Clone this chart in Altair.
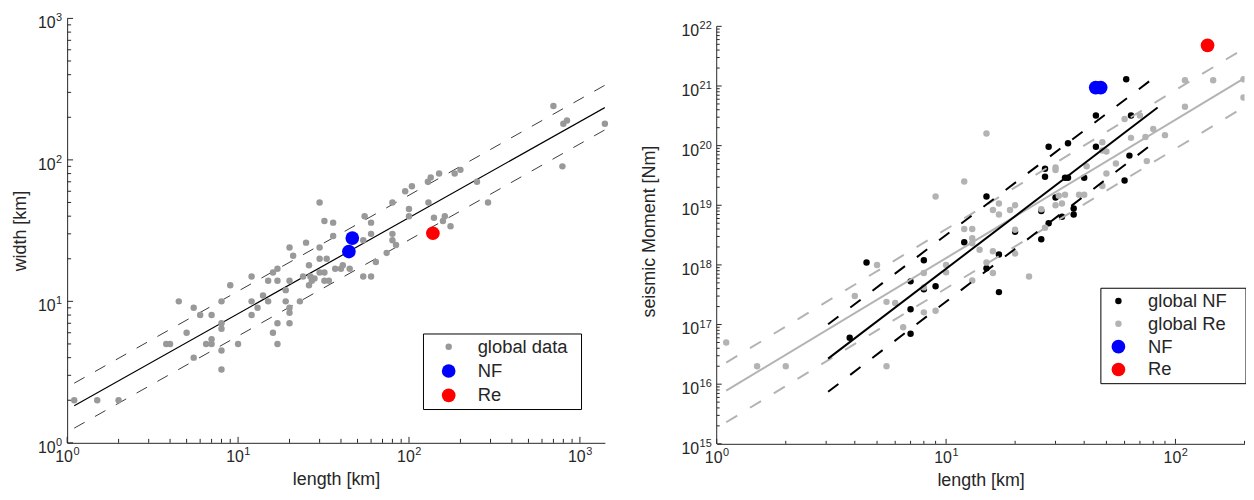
import altair as alt
import pandas as pd

FONT = "Liberation Sans"
TXT = "#262626"
NB = "\u00a0"

# ---------------- left panel: length vs width ----------------
gl_len = [1.1, 1.5, 2, 3.8, 4, 4.5, 5, 5.5, 5.5, 6, 6.5, 7, 7, 7, 8, 8, 8, 8, 8, 9, 10,
          12, 12, 12, 13, 14, 15, 15, 16, 17, 17, 17, 16, 17, 19, 19, 20, 20, 20, 20, 23,
          20, 21, 24, 25, 26, 26, 27, 28, 26.5, 30, 30, 30, 33, 30, 32, 32, 34, 32, 36, 36,
          37, 40, 41, 45, 54, 60, 64, 74, 55, 60, 60, 54, 80, 80, 80, 84, 95, 104, 100, 100,
          130, 129, 134, 150, 185, 200, 140, 162, 158, 175, 250, 290, 700, 800, 840, 1400, 790]
gl_wid = [2, 2, 2, 5, 5, 10, 6, 9, 4, 8, 5, 5, 5.4, 8, 10, 7, 6.4, 4.5, 3.3, 13, 5,
          15, 10, 8, 9, 11, 10, 14, 16, 17, 14, 7, 6, 5, 12, 10, 14, 9, 8.3, 7, 10,
          24, 21, 15, 26, 18, 13, 14, 14.5, 15, 50, 24, 20, 20, 16, 16, 14, 14, 37, 36, 29,
          17, 17, 18, 17, 15, 15, 19, 22, 40, 36, 30, 27, 50, 30, 27, 25, 60, 65, 45, 40,
          50, 70, 75, 80, 80, 85, 39, 40, 37, 34, 70, 50, 240, 180, 190, 180, 90]
nf_len = [44.5, 46.6]
nf_wid = [22.5, 28.0]
re_len = [138]
re_wid = [30.3]

fitL_x = [1.1, 1400]
fitL_y = [1.83, 234]
fitL_up = [2.64, 337]
fitL_lo = [1.27, 163]

# ---------------- right panel: length vs seismic moment ----------------
gnf_len = [3.8, 4.5, 7, 7, 7, 8, 8, 9, 12, 15, 15, 17, 17, 20, 26, 26, 27, 27, 28, 28,
           30, 32, 33, 34, 34, 36, 36, 40, 45, 45, 60, 61, 63, 64]
gnf_m0 = [6e16, 1.1e18, 5.3e17, 1.8e17, 7e16, 1.2e18, 3.9e17, 4.4e17, 2.4e18, 1.4e19,
          8.8e17, 1.5e18, 3.5e17, 3.6e18, 8e18, 2.7e18, 4.1e19, 3e19, 9.6e19, 5e18,
          1.35e19, 6.4e18, 2.9e19, 2.9e19, 1.1e20, 8.8e18, 7e18, 2.9e19, 9.6e19, 3.2e20,
          2.6e19, 1.3e21, 6.8e19, 3.2e20]
gre_len = [1.1, 1.5, 2, 4, 5, 5.5, 6, 5.5, 6.5, 8, 8, 8, 9, 10, 10, 9, 12, 13, 13, 13,
           13, 12, 14, 15, 16, 16, 15, 16, 17, 17, 19, 20, 20, 20, 23, 26, 27, 30, 32, 31,
           33, 38, 40, 30, 30, 41, 48, 48, 50, 50, 55, 48, 60, 64, 70, 74, 75, 80, 90, 110,
           110, 146, 198, 198]
gre_m0 = [5e16, 2e16, 2e16, 3e17, 1e18, 2.4e17, 2.3e17, 2e16, 9e16, 7.3e17, 4.2e17, 1.6e17,
          1.7e17, 1e18, 7.5e17, 1.4e19, 4e18, 4e18, 2.8e18, 2.3e18, 5.5e17, 2.5e19, 1.8e18,
          1.1e18, 1.7e18, 7.3e17, 1.6e20, 8.3e18, 1.07e19, 7e18, 8.3e18, 1e19, 3.9e18,
          1.55e18, 6.4e17, 8.6e18, 4.2e18, 1e19, 1.07e19, 1.45e19, 1.5e19, 1.5e19, 1.5e19,
          4.3e19, 3.9e19, 4.5e19, 1.14e20, 8.3e19, 8e19, 3.4e19, 5e19, 2.1e19, 2.8e20,
          1.35e20, 3.2e20, 1.4e20, 5.5e19, 1.9e20, 1.5e20, 4.5e20, 1.25e21, 1.25e21,
          1.3e21, 6.4e20]
nfR_len = [44.9, 47.2]
nfR_m0 = [9.4e20, 9.4e20]
reR_len = [138]
reR_m0 = [4.8e21]

fitRe_x = [1.1, 200]
fitRe_y = [7.8e15, 1.35e21]
fitRe_up = [2.3e16, 4.3e21]
fitRe_lo = [2.3e15, 4.5e20]
fitNF_x = [3.06, 83.6]
fitNF_y = [2.68e16, 4.35e20]
fitNF_up = [1.01e17, 1.53e21]
fitNF_lo = [7.45e15, 1.25e20]

# ---------------- ticks and tick labels ----------------
L_major = [1, 10, 100, 1000]
L_exp = ["0", "1", "2", "3"]
R_x_major = [1, 10, 100]
R_x_exp = ["0", "1", "2"]
R_y_major = [1e15, 1e16, 1e17, 1e18, 1e19, 1e20, 1e21, 1e22]
R_y_exp = ["15", "16", "17", "18", "19", "20", "21", "22"]
minor_mult = [2, 3, 4, 5, 6, 7, 8, 9]
L_minor = [m * 10 ** k for k in range(0, 3) for m in minor_mult]
R_x_minor = [m * 10 ** k for k in range(0, 2) for m in minor_mult] + [200]
R_y_minor = [m * 10.0 ** k for k in range(15, 22) for m in minor_mult]

WL, HL = 541, 427
WR, HR = 531, 428
FS, FS2 = 16, 11          # tick label base / exponent font sizes
W10 = 1.112 * FS           # width of "10"
WD = 0.556 * FS2           # width of one exponent digit


def axis(title, tit_pad, domain=True):
    return alt.Axis(title=title, labels=False, ticks=False, tickSize=0, grid=False,
                    domain=domain, domainColor=TXT, domainWidth=1,
                    titleFont=FONT, titleFontSize=18, titleColor=TXT,
                    titleFontWeight="normal", titlePadding=tit_pad)


def ticks_x(vals, X, H, ln):
    return alt.Chart(pd.DataFrame({"t": vals})).mark_rule(color=TXT, strokeWidth=1).encode(
        x=X("t"), y=alt.value(H), y2=alt.value(H - ln))


def ticks_y(vals, Y, ln):
    return alt.Chart(pd.DataFrame({"t": vals})).mark_rule(color=TXT, strokeWidth=1).encode(
        y=Y("t"), x=alt.value(0), x2=alt.value(ln))


def labels_x(vals, exps, X, H):
    df = pd.DataFrame({"t": vals, "b": ["10"] * len(vals), "e": exps})
    dx = (W10 - len(exps[0]) * WD) / 2
    base = alt.Chart(df).mark_text(align="right", baseline="alphabetic", dx=dx,
                                   font=FONT, fontSize=FS, color=TXT).encode(
        x=X("t"), y=alt.value(H + 19), text="b:N")
    sup = alt.Chart(df).mark_text(align="left", baseline="alphabetic", dx=dx + 0.5,
                                  font=FONT, fontSize=FS2, color=TXT).encode(
        x=X("t"), y=alt.value(H + 12), text="e:N")
    return [base, sup]


def labels_y(vals, exps, Y):
    df = pd.DataFrame({"t": vals, "b": ["10"] * len(vals), "e": exps})
    n = len(exps[0])
    base = alt.Chart(df).mark_text(align="right", baseline="alphabetic", dy=10,
                                   font=FONT, fontSize=FS, color=TXT).encode(
        y=Y("t"), x=alt.value(-5.5 - n * WD), text="b:N")
    sup = alt.Chart(df).mark_text(align="right", baseline="alphabetic", dy=3,
                                  font=FONT, fontSize=FS2, color=TXT).encode(
        y=Y("t"), x=alt.value(-5), text="e:N")
    return [base, sup]


def line(xs, ys, Xf, Yf, color, width, dash=None):
    df = pd.DataFrame({"lx": xs, "ly": ys})
    kw = dict(color=color, strokeWidth=width, clip=True)
    if dash:
        kw["strokeDash"] = dash
    return alt.Chart(df).mark_line(**kw).encode(x=Xf("lx"), y=Yf("ly"))


def pts(df, X, Y, xf, yf, sf, dom, cols, sizes, leg, clip=False):
    return alt.Chart(df).mark_circle(opacity=1, clip=clip).encode(
        x=X(xf), y=Y(yf),
        color=alt.Color(sf + ":N", scale=alt.Scale(domain=dom, range=cols), legend=leg),
        size=alt.Size(sf + ":N", scale=alt.Scale(type="ordinal", domain=dom, range=sizes),
                      legend=leg))


def legend(lx, ly, s_off, l_off, row_pad, extra_right):
    # an empty title placed on the right side supplies the box's right margin
    return alt.Legend(title=NB, titleOrient="right", titleFontSize=1,
                      titlePadding=extra_right, orient="none", legendX=lx, legendY=ly,
                      strokeColor="#000000", fillColor="white", padding=4,
                      symbolOffset=s_off, labelOffset=l_off, labelFont=FONT,
                      labelFontSize=18.5, labelColor=TXT, rowPadding=row_pad,
                      symbolType="circle", symbolStrokeWidth=0, labelLimit=400)


# ================= LEFT =================
xsL = alt.Scale(type="log", domain=[1, 1400], nice=False)
ysL = alt.Scale(type="log", domain=[1, 1000], nice=False)
axXL = axis("length [km]", 28)
axYL = axis("width [km]", 38)


def XL(f):
    return alt.X(f, type="quantitative", scale=xsL, axis=axXL)


def YL(f):
    return alt.Y(f, type="quantitative", scale=ysL, axis=axYL)


L_dom = ["global data", "NF", "Re"]
L_col = ["#999999", "#0000ff", "#ff0000"]
L_size = [42, 190, 190]
legL = legend(358, 317, 12.6, 19.9, 5.5, 8.6)

dfL_g = pd.DataFrame({"len": gl_len, "wid": gl_wid, "sL": "global data"})
dfL_s = pd.DataFrame({"len": nf_len + re_len, "wid": nf_wid + re_wid,
                      "sL": ["NF"] * len(nf_len) + ["Re"] * len(re_len)})

left = alt.layer(
    ticks_x(L_major, XL, HL, 6), ticks_x(L_minor, XL, HL, 4),
    ticks_y(L_major, YL, 6), ticks_y(L_minor, YL, 4),
    *labels_x(L_major, L_exp, XL, HL), *labels_y(L_major, L_exp, YL),
    line(fitL_x, fitL_y, XL, YL, "#000000", 1.2),
    line(fitL_x, fitL_up, XL, YL, "#3a3a3a", 1, [12, 12]),
    line(fitL_x, fitL_lo, XL, YL, "#3a3a3a", 1, [12, 12]),
    pts(dfL_g, XL, YL, "len", "wid", "sL", L_dom, L_col, L_size, legL),
    pts(dfL_s, XL, YL, "len", "wid", "sL", L_dom, L_col, L_size, legL),
).properties(width=WL, height=HL)

# ================= RIGHT =================
xsR = alt.Scale(type="log", domain=[1, 200], nice=False)
ysR = alt.Scale(type="log", domain=[1e15, 1.3594e22], nice=False)
axXR = axis("length [km]", 28)
axYR = axis("seismic Moment [Nm]", 59, domain=False)


def XR(f):
    return alt.X(f, type="quantitative", scale=xsR, axis=axXR)


def YR(f):
    return alt.Y(f, type="quantitative", scale=ysR, axis=axYR)


R_dom = ["global NF", "global Re", "NF", "Re"]
R_col = ["#000000", "#b3b3b3", "#0000ff", "#ff0000"]
R_size = [42, 42, 190, 190]
legR = legend(386, 271, 4.9, 20.6, 4, 15)

dfR_g = pd.DataFrame({"len": gnf_len + gre_len, "m0": gnf_m0 + gre_m0,
                      "sR": ["global NF"] * len(gnf_len) + ["global Re"] * len(gre_len)})
dfR_s = pd.DataFrame({"len": nfR_len + reR_len, "m0": nfR_m0 + reR_m0,
                      "sR": ["NF"] * len(nfR_len) + ["Re"] * len(reR_len)})

ydom = alt.Chart(pd.DataFrame({"lo": [R_y_major[0]], "hi": [R_y_major[-1]]})).mark_rule(
    color=TXT, strokeWidth=1).encode(x=alt.value(0), y=YR("lo"), y2="hi")

right = alt.layer(
    ticks_x(R_x_major, XR, HR, 5), ticks_x(R_x_minor, XR, HR, 3),
    ticks_y(R_y_major, YR, 5), ticks_y(R_y_minor, YR, 3),
    *labels_x(R_x_major, R_x_exp, XR, HR), *labels_y(R_y_major, R_y_exp, YR),
    ydom,
    pts(dfR_g, XR, YR, "len", "m0", "sR", R_dom, R_col, R_size, legR, clip=True),
    line(fitRe_x, fitRe_y, XR, YR, "#b3b3b3", 2),
    line(fitRe_x, fitRe_up, XR, YR, "#b3b3b3", 2, [13, 15]),
    line(fitRe_x, fitRe_lo, XR, YR, "#b3b3b3", 2, [13, 15]),
    line(fitNF_x, fitNF_y, XR, YR, "#000000", 2),
    line(fitNF_x, fitNF_up, XR, YR, "#000000", 2, [13, 15]),
    line(fitNF_x, fitNF_lo, XR, YR, "#000000", 2, [13, 15]),
    pts(dfR_s, XR, YR, "len", "m0", "sR", R_dom, R_col, R_size, legR, clip=True),
).properties(width=WR, height=HR)

chart = alt.hconcat(left, right, spacing=31.5).resolve_scale(
    color="independent", size="independent").resolve_legend(
    color="independent", size="independent").properties(
    padding={"left": 3.5, "top": 3, "right": 0, "bottom": 0}).configure_view(stroke=None)

chart.save("out.html", embed_options={"renderer": "svg", "actions": False})
